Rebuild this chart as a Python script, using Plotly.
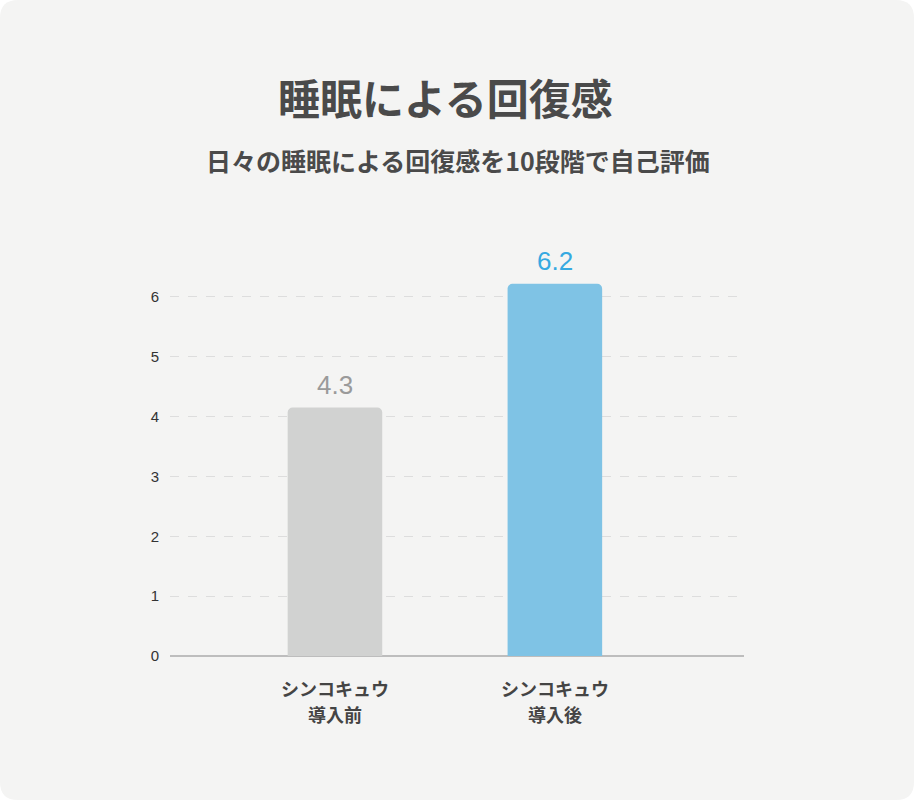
import plotly.graph_objects as go

categories = ["シンコキュウ導入前", "シンコキュウ導入後"]
label_line1 = ["シンコキュウ", "シンコキュウ"]
label_line2 = ["導入前", "導入後"]
values = [4.15, 6.22]
value_labels = ["4.3", "6.2"]
bar_colors = ["#d1d2d1", "#7fc3e5"]
label_colors = ["#9a9a9a", "#36a9e1"]
y_ticks = [0, 1, 2, 3, 4, 5, 6]

W, H = 914, 800
L, R, T, B = 170, 914 - 744, 237, 800 - 656
pw, ph = W - L - R, H - T - B

def px(X):
    return (X - L) / pw

def py(Y):
    return (H - B - Y) / ph

def card_path(r=18):
    x0, x1, y0, y1 = 0, W, 0, H
    p = f"M {px(x0+r)} {py(y0)} L {px(x1-r)} {py(y0)} "
    p += f"Q {px(x1)} {py(y0)} {px(x1)} {py(y0+r)} "
    p += f"L {px(x1)} {py(y1-r)} Q {px(x1)} {py(y1)} {px(x1-r)} {py(y1)} "
    p += f"L {px(x0+r)} {py(y1)} Q {px(x0)} {py(y1)} {px(x0)} {py(y1-r)} "
    p += f"L {px(x0)} {py(y0+r)} Q {px(x0)} {py(y0)} {px(x0+r)} {py(y0)} Z"
    return p

jp = "Noto Sans CJK JP, sans-serif"
num = "Liberation Sans, Arial, sans-serif"

fig = go.Figure(go.Bar(
    x=categories, y=values, width=0.43,
    marker=dict(color=bar_colors, cornerradius=5, line=dict(width=0)),
    hoverinfo="skip",
))

for c, v, t, col in zip(categories, values, value_labels, label_colors):
    fig.add_annotation(x=c, y=v, text=t, showarrow=False, yanchor="middle",
                       yshift=23, font=dict(family=num, size=26, color=col))

for c, l1, l2 in zip(categories, label_line1, label_line2):
    fig.add_annotation(x=c, y=0, text=l1, showarrow=False, yanchor="middle",
                       yshift=-32, font=dict(family=jp, size=18, color="#444444", weight=700))
    fig.add_annotation(x=c, y=0, text=l2, showarrow=False, yanchor="middle",
                       yshift=-58, font=dict(family=jp, size=18, color="#444444", weight=700))

fig.add_annotation(xref="paper", yref="paper", x=px(445), y=py(96), text="睡眠による回復感",
                   showarrow=False, xanchor="center", yanchor="middle",
                   font=dict(family=jp, size=42, color="#4a4a4a", weight=700))
fig.add_annotation(xref="paper", yref="paper", x=px(458), y=py(160), text="日々の睡眠による回復感を10段階で自己評価",
                   showarrow=False, xanchor="center", yanchor="middle",
                   font=dict(family=jp, size=25, color="#4a4a4a", weight=700))

fig.add_shape(type="path", path=card_path(), xref="paper", yref="paper",
              fillcolor="#f4f4f3", line=dict(width=0), layer="below")

fig.update_layout(
    width=W, height=H, margin=dict(l=L, r=R, t=T, b=B),
    paper_bgcolor="#ffffff", plot_bgcolor="rgba(0,0,0,0)",
    showlegend=False,
    xaxis=dict(range=[-0.75, 1.86], showgrid=False, zeroline=False, showline=False,
               ticks="", showticklabels=False, fixedrange=True),
    yaxis=dict(range=[0, 7], tickvals=y_ticks, showgrid=True, gridcolor="#dddddd",
               griddash="dash", gridwidth=1, zeroline=True, zerolinecolor="#bdbdbd",
               zerolinewidth=1.5, showline=False, ticks="", ticklabelstandoff=10,
               tickfont=dict(family=num, size=15, color="#333333"), fixedrange=True),
)

fig.write_html("out.html", config={"displayModeBar": False},
               post_script="document.body.style.margin='0';")
